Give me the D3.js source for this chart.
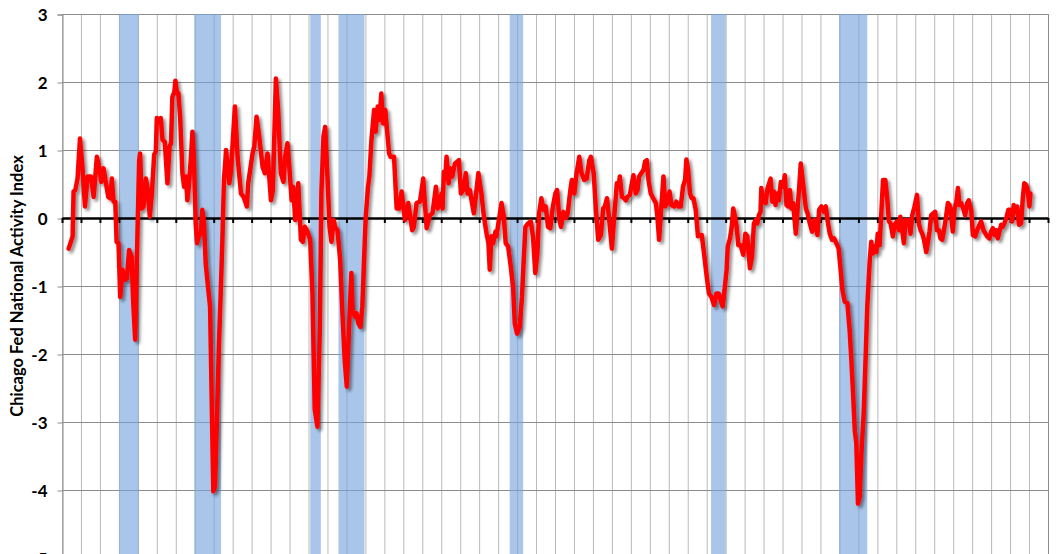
<!DOCTYPE html>
<html>
<head>
<meta charset="utf-8">
<script src="https://cdn.jsdelivr.net/npm/d3@7/dist/d3.min.js"></script>
<style>
  body { margin: 0; background: #fff; }
  svg { display: block; }
  .tick-label { font-family: Lato, "Open Sans", sans-serif; font-weight: bold; font-size: 17px; fill: #000; }
  .axis-title { font-family: Lato, "Open Sans", sans-serif; font-weight: bold; font-size: 16.5px; fill: #000; }
</style>
</head>
<body>
<div id="chart"></div>
<script>
// y axis values
var yTicks = [-5, -4, -3, -2, -1, 0, 1, 2, 3];

// one vertical gridline per year
var firstYear = 1967, lastYear = 2019;

// recession bands [start, end] in decimal years
var recessions = [
  [1970.02, 1971.05],
  [1973.98, 1975.39],
  [1980.09, 1980.65],
  [1981.58, 1982.95],
  [1990.61, 1991.32],
  [2001.23, 2002.00],
  [2007.98, 2009.47]
];

// Chicago Fed National Activity Index, [decimal year, value]
var cfnai = [
  [1967.35,-0.45],[1967.47,-0.35],[1967.56,-0.27],[1967.61,0.39],[1967.70,0.41],[1967.82,0.58],[1967.95,1.17],
  [1968.09,0.70],[1968.21,0.17],[1968.35,0.61],[1968.53,0.61],[1968.67,0.31],[1968.84,0.90],[1968.96,0.75],
  [1969.07,0.53],[1969.19,0.73],[1969.32,0.51],[1969.44,0.31],[1969.54,0.29],[1969.63,0.58],[1969.72,0.24],
  [1969.81,0.24],[1969.88,-0.35],[1969.98,-0.37],[1970.07,-1.16],[1970.19,-0.76],[1970.32,-0.91],[1970.42,-0.89],
  [1970.54,-0.47],[1970.67,-0.57],[1970.75,-1.20],[1970.86,-1.79],[1970.95,-0.60],[1971.07,0.85],[1971.12,0.95],
  [1971.21,0.14],[1971.30,0.17],[1971.42,0.58],[1971.53,0.41],[1971.63,0.02],[1971.74,0.36],[1971.86,0.93],
  [1971.95,0.98],[1972.00,1.47],[1972.12,1.44],[1972.21,1.47],[1972.30,1.15],[1972.42,1.12],[1972.56,0.51],
  [1972.67,1.05],[1972.75,1.10],[1972.82,1.78],[1972.93,1.86],[1972.98,2.02],[1973.05,1.86],[1973.14,1.83],
  [1973.23,1.49],[1973.35,0.66],[1973.44,0.46],[1973.54,0.61],[1973.61,0.26],[1973.70,0.51],[1973.79,0.85],
  [1973.88,1.27],[1973.96,0.85],[1974.05,-0.08],[1974.12,-0.37],[1974.23,-0.25],[1974.32,-0.23],[1974.40,0.12],
  [1974.49,-0.08],[1974.58,-0.67],[1974.70,-1.01],[1974.81,-1.30],[1974.89,-2.58],[1974.98,-4.02],[1975.07,-3.95],
  [1975.16,-3.07],[1975.28,-1.84],[1975.37,-1.11],[1975.46,-0.32],[1975.54,0.56],[1975.63,0.90],
  [1975.65,1.00],[1975.82,0.51],[1975.91,0.68],[1976.12,1.64],[1976.26,0.90],[1976.44,0.36],[1976.58,0.31],
  [1976.75,0.17],[1976.82,0.51],[1977.05,0.95],[1977.14,1.05],[1977.26,1.49],[1977.40,1.20],[1977.58,0.75],
  [1977.70,0.66],[1977.84,0.95],[1978.02,0.26],[1978.12,0.41],[1978.28,2.05],[1978.40,1.59],[1978.54,0.66],
  [1978.68,0.53],[1978.77,0.90],[1978.89,1.10],[1979.00,0.71],[1979.11,0.26],[1979.19,0.46],[1979.30,-0.03],
  [1979.46,0.51],[1979.60,-0.32],[1979.70,-0.35],[1979.81,-0.13],[1979.95,-0.20],[1980.09,-0.32],[1980.21,-1.11],
  [1980.33,-2.82],[1980.47,-3.07],[1980.60,-1.60],[1980.68,0.36],[1980.79,1.20],[1980.88,1.34],[1981.00,0.61],
  [1981.11,-0.13],[1981.21,-0.35],[1981.32,-0.03],[1981.40,-0.13],[1981.53,-0.18],[1981.67,-0.62],[1981.79,-1.40],
  [1981.91,-2.09],[1982.02,-2.48],[1982.14,-1.60],[1982.26,-0.81],[1982.33,-1.35],[1982.44,-1.45],[1982.53,-1.40],
  [1982.63,-1.55],[1982.74,-1.60],[1982.84,-1.30],[1982.93,-0.62],[1983.02,0.02],[1983.14,0.46],[1983.21,0.61],
  [1983.32,1.15],[1983.46,1.59],[1983.54,1.27],[1983.65,1.64],[1983.74,1.44],[1983.84,1.83],[1983.93,1.39],
  [1984.05,1.59],[1984.25,0.95],[1984.33,0.90],
  [1984.51,0.90],[1984.65,0.14],[1984.79,0.14],[1984.91,0.39],[1985.09,-0.03],[1985.26,0.22],[1985.47,-0.18],
  [1985.56,-0.13],[1985.70,0.22],[1985.88,0.24],[1986.05,0.58],[1986.23,-0.15],[1986.40,0.04],[1986.54,0.07],
  [1986.72,0.46],[1986.81,0.14],[1986.93,0.24],[1987.02,0.36],[1987.07,0.14],[1987.14,0.68],[1987.21,0.58],
  [1987.28,0.90],[1987.39,0.51],[1987.49,0.73],[1987.58,0.61],[1987.72,0.80],[1987.93,0.85],[1988.04,0.36],
  [1988.16,0.41],[1988.30,0.66],[1988.39,0.36],[1988.51,0.41],[1988.60,0.26],[1988.72,0.07],[1988.86,0.41],
  [1988.96,0.66],[1989.12,0.36],[1989.25,0.02],[1989.39,-0.23],[1989.49,-0.37],[1989.56,-0.76],[1989.65,-0.27],
  [1989.74,-0.37],[1989.86,-0.20],[1989.91,-0.27],[1990.04,-0.03],[1990.18,0.22],[1990.30,0.02],[1990.40,-0.37],
  [1990.53,-0.42],[1990.67,-0.72],[1990.79,-1.01],[1990.88,-1.55],[1991.00,-1.70],[1991.14,-1.60],[1991.26,-1.16],
  [1991.35,-0.62],[1991.44,-0.13],[1991.58,-0.08],[1991.72,-0.05],[1991.84,-0.27],[1991.96,-0.81],[1992.07,-0.52],
  [1992.16,0.07],[1992.28,0.29],[1992.40,0.12],[1992.51,0.17],[1992.63,-0.13],[1992.75,-0.15],[1992.89,0.17],
  [1993.02,0.36],
  [1993.11,0.41],[1993.23,-0.03],[1993.32,-0.13],[1993.44,0.09],[1993.58,0.00],[1993.67,0.07],[1993.81,0.41],
  [1993.89,0.56],[1994.02,0.36],[1994.14,0.66],[1994.28,0.90],[1994.40,0.66],[1994.54,0.56],[1994.67,0.58],
  [1994.81,0.85],[1994.89,0.90],[1995.04,0.66],[1995.16,0.12],[1995.28,-0.32],[1995.42,-0.25],[1995.54,0.14],
  [1995.63,0.17],[1995.74,0.29],[1995.86,-0.03],[1996.00,-0.45],[1996.09,-0.10],[1996.18,0.22],[1996.26,0.51],
  [1996.35,0.46],[1996.42,0.61],[1996.53,0.31],[1996.65,0.29],[1996.74,0.26],[1996.82,0.31],[1996.95,0.34],
  [1997.04,0.49],[1997.14,0.63],[1997.26,0.36],[1997.35,0.41],[1997.44,0.61],[1997.56,0.66],[1997.67,0.71],
  [1997.75,0.83],[1997.84,0.85],[1997.93,0.56],[1998.05,0.36],[1998.18,0.29],[1998.32,0.22],[1998.40,0.02],
  [1998.49,-0.32],[1998.61,0.17],[1998.72,0.61],[1998.81,0.17],[1998.93,0.22],[1999.04,0.39],[1999.14,0.19],
  [1999.28,0.17],[1999.40,0.24],[1999.51,0.17],[1999.63,0.17],[1999.75,0.46],[1999.86,0.56],[1999.93,0.86],
  [2000.02,0.71],[2000.12,0.36],[2000.21,0.29],[2000.30,0.29],[2000.42,0.12],[2000.54,-0.27],[2000.63,-0.25],
  [2000.74,-0.25],[2000.86,-0.52],[2001.00,-0.86],[2001.12,-1.11],[2001.25,-1.16],[2001.39,-1.28],[2001.51,-1.11],
  [2001.63,-1.11],
  [2001.84,-1.30],[2001.96,-1.01],[2002.05,-0.76],[2002.11,-0.42],[2002.23,-0.30],[2002.32,-0.13],[2002.40,0.14],
  [2002.49,0.02],[2002.58,-0.13],[2002.67,-0.40],[2002.79,-0.40],[2002.93,-0.54],[2003.04,-0.23],[2003.14,-0.27],
  [2003.28,-0.74],[2003.39,-0.57],[2003.49,-0.08],[2003.58,-0.03],[2003.67,-0.08],[2003.75,0.04],[2003.84,0.09],
  [2003.88,0.44],[2003.98,0.24],[2004.11,0.22],[2004.21,0.44],[2004.37,0.58],[2004.46,0.24],[2004.54,0.39],
  [2004.63,0.19],[2004.72,0.36],[2004.81,0.26],[2004.91,0.53],[2005.04,0.46],[2005.12,0.63],[2005.21,0.19],
  [2005.30,0.17],[2005.39,0.41],[2005.47,0.14],[2005.56,0.22],[2005.70,-0.23],[2005.79,0.12],[2005.88,0.46],
  [2005.96,0.80],[2006.09,0.49],[2006.23,0.14],[2006.32,0.07],[2006.44,-0.08],[2006.56,-0.20],[2006.67,-0.03],
  [2006.75,-0.08],[2006.84,-0.25],[2006.93,0.12],[2007.05,0.17],[2007.18,0.09],[2007.28,0.17],[2007.37,-0.03],
  [2007.49,-0.23],[2007.61,-0.32],[2007.72,-0.30],[2007.84,-0.37],[2007.96,-0.45],[2008.05,-0.72],[2008.16,-1.06],
  [2008.28,-1.23],[2008.42,-1.25],[2008.54,-1.65],[2008.63,-2.09],[2008.72,-2.58],[2008.81,-3.12],[2008.89,-3.31],
  [2008.98,-4.20],[2009.07,-4.10],[2009.16,-3.46],[2009.28,-2.87],[2009.39,-1.99],[2009.47,-1.30],[2009.60,-0.62],
  [2009.68,-0.35],[2009.77,-0.52],[2009.86,-0.42],[2009.95,-0.50],[2010.02,-0.23],[2010.12,-0.40],[2010.21,0.07],
  [2010.30,0.56],
  [2010.42,0.56],[2010.53,0.26],[2010.61,-0.05],[2010.70,-0.08],[2010.82,-0.27],[2010.91,-0.10],[2011.04,-0.05],
  [2011.14,-0.18],[2011.21,0.02],[2011.30,-0.15],[2011.40,-0.37],[2011.49,-0.03],[2011.58,-0.05],[2011.67,-0.03],
  [2011.75,-0.23],[2011.84,0.04],[2011.96,0.17],[2012.09,0.34],[2012.19,-0.08],[2012.28,-0.18],[2012.37,-0.23],
  [2012.46,-0.32],[2012.58,-0.50],[2012.67,-0.35],[2012.75,-0.20],[2012.84,0.04],[2012.96,0.07],[2013.05,0.09],
  [2013.14,-0.18],[2013.25,-0.18],[2013.33,-0.30],[2013.42,-0.32],[2013.51,-0.18],[2013.60,-0.03],[2013.72,0.22],
  [2013.81,0.19],[2013.89,0.04],[2013.98,-0.20],[2014.07,0.14],[2014.16,0.22],[2014.25,0.44],[2014.33,0.19],
  [2014.42,0.22],[2014.53,0.14],[2014.63,0.04],[2014.74,0.22],[2014.82,0.26],[2014.95,0.12],[2015.04,-0.25],
  [2015.16,-0.27],[2015.26,-0.18],[2015.39,-0.10],[2015.47,-0.05],[2015.60,-0.18],[2015.70,-0.23],[2015.79,-0.27],
  [2015.91,-0.30],[2016.00,-0.20],[2016.09,-0.15],[2016.18,-0.25],[2016.26,-0.18],[2016.35,-0.30],[2016.44,-0.20],
  [2016.53,-0.10],[2016.61,-0.13],[2016.70,-0.08],[2016.82,0.02],[2016.91,0.12],[2017.02,0.12],[2017.11,-0.05],
  [2017.19,0.19],[2017.28,0.09],[2017.37,0.17],[2017.47,-0.10],[2017.58,-0.08],[2017.67,0.29],[2017.75,0.51],
  [2017.84,0.49],[2017.93,0.41],[2018.02,0.17],[2018.07,0.36]
];

var yTitle = "Chicago Fed National Activity Index";

var width = 1056,
    height = 554;

// plot area (bottom runs past the window, like the original crop)
var margin = { left: 62, top: 14, right: 8, bottom: -4 };
var plotW = width - margin.left - margin.right;
var plotH = height - margin.top - margin.bottom;

var x = d3.scaleLinear()
    .domain([firstYear, lastYear])
    .range([margin.left, margin.left + plotW]);

var y = d3.scaleLinear()
    .domain([-5, 3])
    .range([margin.top + plotH, margin.top]);

var svg = d3.select("#chart").append("svg")
    .attr("width", width)
    .attr("height", height);

// drop shadow for the series line
var defs = svg.append("defs");
defs.append("filter")
    .attr("id", "shadow")
    .attr("x", "-5%").attr("y", "-5%")
    .attr("width", "110%").attr("height", "110%")
  .append("feDropShadow")
    .attr("dx", 2.5)
    .attr("dy", 2.5)
    .attr("stdDeviation", 1.8)
    .attr("flood-color", "#000")
    .attr("flood-opacity", 0.45);

var years = d3.range(firstYear, lastYear + 1);

// vertical gridlines
svg.append("g")
    .selectAll("line")
    .data(years)
    .join("line")
    .attr("x1", d => x(d) + 0.5)
    .attr("x2", d => x(d) + 0.5)
    .attr("y1", y(3))
    .attr("y2", y(-5))
    .attr("stroke", "#b9b9b9")
    .attr("stroke-width", 1);

// horizontal gridlines
svg.append("g")
    .selectAll("line")
    .data(yTicks)
    .join("line")
    .attr("x1", x(firstYear))
    .attr("x2", x(lastYear))
    .attr("y1", d => y(d) + 0.5)
    .attr("y2", d => y(d) + 0.5)
    .attr("stroke", "#8c8c8c")
    .attr("stroke-width", 1);

// recession bands, semi transparent so the gridlines show through
svg.append("g")
    .selectAll("rect")
    .data(recessions)
    .join("rect")
    .attr("x", d => x(d[0]))
    .attr("width", d => x(d[1]) - x(d[0]))
    .attr("y", y(3))
    .attr("height", y(-5) - y(3))
    .attr("fill", "rgb(121,164,222)")
    .attr("fill-opacity", 0.64);

// left axis
var yAxis = d3.axisLeft(y)
    .tickValues(yTicks)
    .tickSize(5)
    .tickPadding(10)
    .tickFormat(d => String(d));

var gy = svg.append("g")
    .attr("transform", "translate(" + (x(firstYear) + 0.5) + ",0.5)")
    .call(yAxis);
gy.select(".domain").attr("stroke", "#8c8c8c");
gy.selectAll(".tick line").attr("stroke", "#8c8c8c");
gy.selectAll(".tick text")
    .attr("class", "tick-label")
    .attr("dy", "0.36em");

// right border
svg.append("line")
    .attr("x1", x(lastYear) + 0.5)
    .attr("x2", x(lastYear) + 0.5)
    .attr("y1", y(3))
    .attr("y2", y(-5))
    .attr("stroke", "#8c8c8c");

// zero line with yearly tick marks
var xAxis = d3.axisBottom(x)
    .tickValues(years)
    .tickSize(5)
    .tickSizeOuter(0)
    .tickFormat("");

var gx = svg.append("g")
    .attr("transform", "translate(0," + y(0) + ")")
    .call(xAxis);
gx.select(".domain").attr("stroke", "#000").attr("stroke-width", 2.6);
gx.selectAll(".tick line").attr("stroke", "#000").attr("stroke-width", 2);

// the index line
var line = d3.line()
    .x(d => x(d[0]))
    .y(d => y(d[1]));

svg.append("path")
    .datum(cfnai)
    .attr("d", line)
    .attr("fill", "none")
    .attr("stroke", "#ff0000")
    .attr("stroke-width", 4.5)
    .attr("stroke-linejoin", "round")
    .attr("stroke-linecap", "round")
    .attr("filter", "url(#shadow)");

// axis title, squeezed to the length it has in the original
var title = svg.append("text")
    .attr("class", "axis-title")
    .attr("transform", "translate(23," + (y(3) + y(-5)) / 2 + ") rotate(-90)")
    .attr("text-anchor", "middle")
    .text(yTitle);

var titleLen = 273;
if (title.node().getComputedTextLength() > titleLen) {
    title.attr("textLength", titleLen).attr("lengthAdjust", "spacingAndGlyphs");
}
</script>
</body>
</html>
